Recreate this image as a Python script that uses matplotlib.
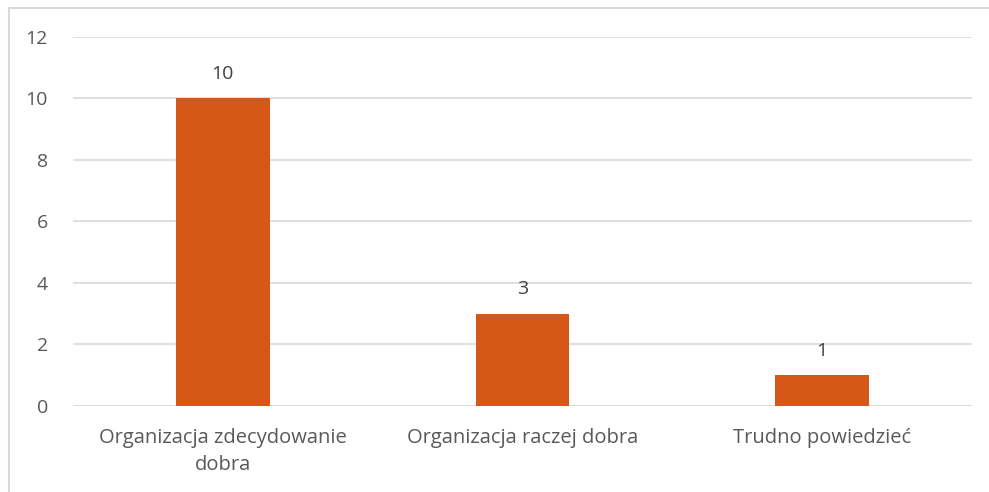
import matplotlib.pyplot as plt
from matplotlib.patches import Rectangle

categories = ["Organizacja zdecydowanie\ndobra", "Organizacja raczej dobra", "Trudno powiedzieć"]
values = [10, 3, 1]
yticks = [0, 2, 4, 6, 8, 10, 12]

plt.rcParams['font.family'] = ['Open Sans', 'DejaVu Sans']
fs = 14

fig = plt.figure(figsize=(9.89, 4.92), dpi=100)
ax = fig.add_axes([0.0738, 0.1748, 0.909, 0.75])

x = list(range(len(categories)))
ax.bar(x, values, width=0.313, color='#D65818', zorder=3)
for xi, v in zip(x, values):
    ax.annotate(str(v), (xi, v), xytext=(0, 11), textcoords='offset points',
                ha='center', va='bottom', fontsize=fs, color='#404040')

ax.set_xlim(-0.5, len(categories) - 0.5)
ax.set_ylim(0, 12)
ax.set_yticks(yticks)
ax.set_xticks(x)
ax.set_xticklabels(categories, fontsize=fs + 0.5, color='#595959', linespacing=1.45)
ax.tick_params(axis='y', labelsize=fs, labelcolor='#595959', length=0, pad=18)
ax.tick_params(axis='x', length=0, pad=16)
ax.yaxis.grid(True, color='#D9D9D9', linewidth=1.2, zorder=0)
for s in ax.spines.values():
    s.set_visible(False)
ax.axhline(0, color='#D9D9D9', linewidth=1.2, zorder=2)

# chart-area frame: only the left and top edges are inside the picture
fig.patches.append(Rectangle((9 / 989, -0.1), 1.2, 1.1 - 7.5 / 492,
                             transform=fig.transFigure, fill=False,
                             edgecolor='#D9D9D9', linewidth=1.5))

fig.savefig('out.png', dpi=100)
